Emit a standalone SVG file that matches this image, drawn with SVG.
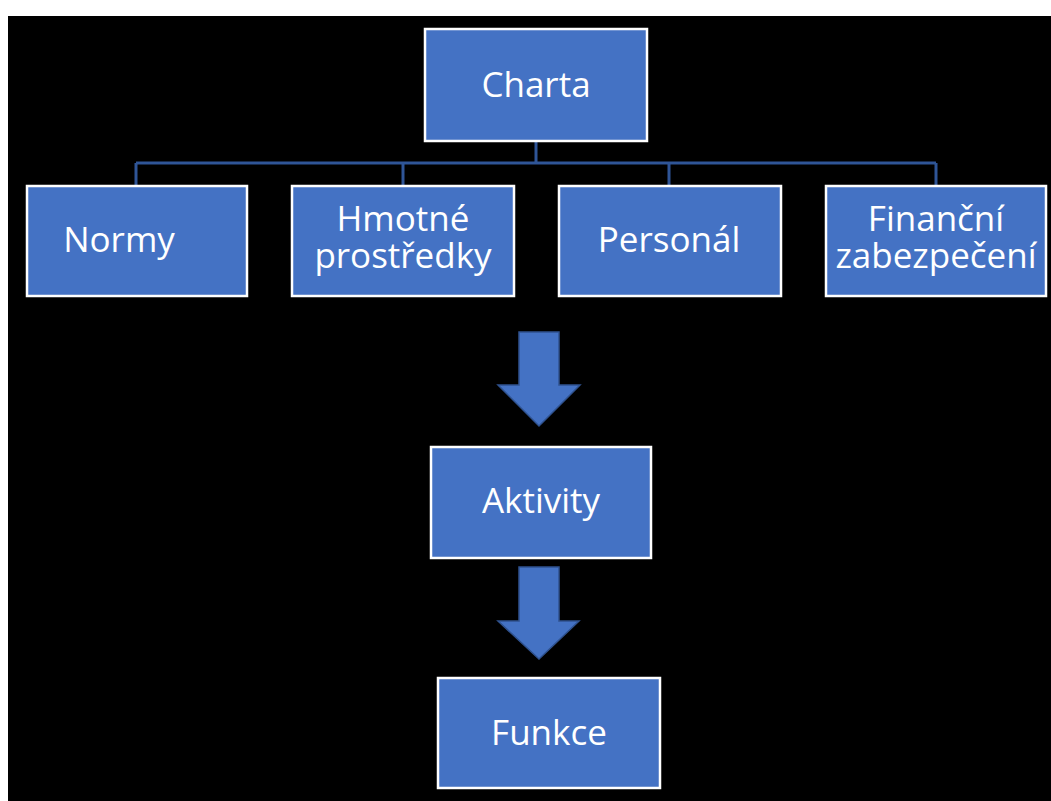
<svg xmlns="http://www.w3.org/2000/svg" width="1051" height="801" viewBox="0 0 1051 801">
<style>
.box{fill:#4472C4;stroke:#FFFFFF;stroke-width:2.5}
.lbl{font-family:"Open Sans","Liberation Sans",sans-serif;font-size:35px;fill:#FFFFFF;text-anchor:middle}
.conn{fill:none;stroke:#2F5597;stroke-width:3}
.arrow{fill:#4472C4;stroke:#2F528F;stroke-width:1.5}
</style>
<rect x="0" y="0" width="1051" height="801" fill="#FFFFFF"/>
<rect x="8" y="16" width="1043" height="785" fill="#000000"/>
<g id="connectors">
<path class="conn" d="M536 141 V163 M136 163 H936 M136 163 V186 M403 163 V186 M669 163 V186 M936 163 V186"/>
<path class="arrow" d="M519 332 H559 V385 H580 L539 426 L498 385 H519 Z"/>
<path class="arrow" d="M519 567 H559 V621 H579 L539 659 L498 621 H519 Z"/>
</g>
<g id="charta"><rect class="box" x="425" y="29" width="222" height="112"/><text class="lbl" x="536" y="97">Charta</text></g>
<g id="normy"><rect class="box" x="27" y="186" width="220" height="110"/><text class="lbl" x="119" y="252">Normy</text></g>
<g id="hmotne"><rect class="box" x="292" y="186" width="222" height="110"/><text class="lbl" x="403" y="231">Hmotné<tspan x="403" y="268">prostředky</tspan></text></g>
<g id="personal"><rect class="box" x="559" y="186" width="222" height="110"/><text class="lbl" x="669" y="252">Personál</text></g>
<g id="financni"><rect class="box" x="826" y="186" width="220" height="110"/><text class="lbl" x="936" y="231">Finanční<tspan x="936" y="268">zabezpečení</tspan></text></g>
<g id="aktivity"><rect class="box" x="431" y="447" width="220" height="111"/><text class="lbl" x="541" y="513">Aktivity</text></g>
<g id="funkce"><rect class="box" x="438" y="678" width="222" height="110"/><text class="lbl" x="549" y="745">Funkce</text></g>
</svg>
